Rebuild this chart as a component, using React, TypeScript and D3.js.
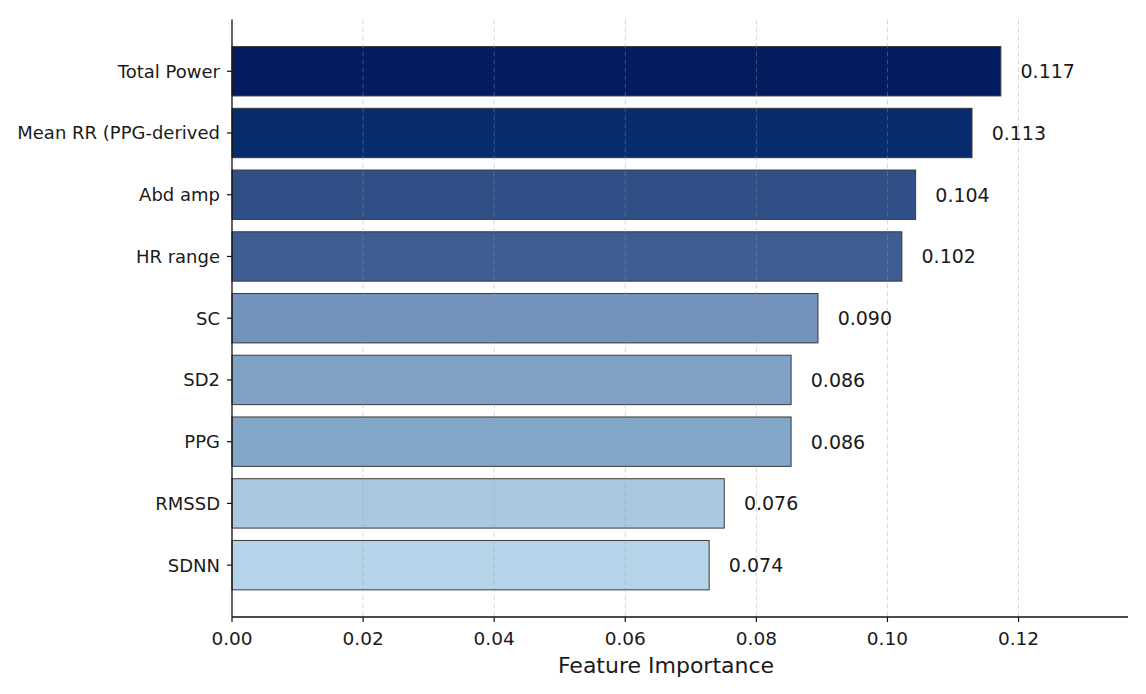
import React from "react";
import * as d3 from "d3";

const features = [
  "Total Power",
  "Mean RR (PPG-derived",
  "Abd amp",
  "HR range",
  "SC",
  "SD2",
  "PPG",
  "RMSSD",
  "SDNN",
];
const importance = [0.1173, 0.1129, 0.1043, 0.1022, 0.0894, 0.0853, 0.0853, 0.0751, 0.0728];
const valueLabels = ["0.117", "0.113", "0.104", "0.102", "0.090", "0.086", "0.086", "0.076", "0.074"];
const barColors = [
  "#031b5f",
  "#062c6d",
  "#2f4f86",
  "#3d5d93",
  "#7393bd",
  "#7fa2c6",
  "#83a7c9",
  "#a9c9e2",
  "#b4d5e9",
];
const xTicks = [0, 0.02, 0.04, 0.06, 0.08, 0.1, 0.12];

const W = 1146;
const H = 694;
const left = 232;
const right = 1128;
const top = 19.4;
const bottom = 617;

export default function App() {
  const x = d3.scaleLinear().domain([0, 0.1367]).range([left, right]);
  const y = d3
    .scaleBand<string>()
    .domain(features)
    .range([top, bottom])
    .paddingInner(0.2)
    .paddingOuter(0.44);
  const font = "'DejaVu Sans', sans-serif";
  const txt = "#1a1a1a";

  return (
    <div style={{ position: "absolute", left: 0, top: 0 }}>
      <svg width={W} height={H} style={{ display: "block", background: "#ffffff" }}>
        {features.map((f, i) => (
          <rect
            key={f}
            x={x(0)}
            y={y(f)}
            width={x(importance[i]) - x(0)}
            height={y.bandwidth()}
            fill={barColors[i]}
            stroke="#3a3a3a"
            strokeWidth={1}
          />
        ))}
        {xTicks.slice(1).map((t) => (
          <line
            key={"g" + t}
            x1={x(t)}
            x2={x(t)}
            y1={top}
            y2={bottom}
            stroke="#9a9a9a"
            strokeOpacity={0.4}
            strokeWidth={1}
            strokeDasharray="5,3"
          />
        ))}
        {/* spines */}
        <line x1={left} x2={left} y1={top} y2={bottom} stroke="#111" strokeWidth={1.3} />
        <line x1={left} x2={right} y1={bottom} y2={bottom} stroke="#111" strokeWidth={1.3} />
        {/* x ticks */}
        {xTicks.map((t) => (
          <g key={"t" + t}>
            <line x1={x(t)} x2={x(t)} y1={bottom} y2={bottom + 5} stroke="#111" strokeWidth={1.2} />
            <text
              x={x(t)}
              y={644.5}
              textAnchor="middle"
              fontFamily={font}
              fontSize={18.5}
              fill={txt}
            >
              {d3.format(".2f")(t)}
            </text>
          </g>
        ))}
        {/* y ticks */}
        {features.map((f) => {
          const cy = (y(f) as number) + y.bandwidth() / 2;
          return (
            <g key={"y" + f}>
              <line x1={left - 5} x2={left} y1={cy} y2={cy} stroke="#111" strokeWidth={1.2} />
              <text
                x={left - 12}
                y={cy}
                dy="0.36em"
                textAnchor="end"
                fontFamily={font}
                fontSize={18}
                fill={txt}
              >
                {f}
              </text>
            </g>
          );
        })}
        {/* value labels */}
        {features.map((f, i) => {
          const cy = (y(f) as number) + y.bandwidth() / 2;
          return (
            <text
              key={"v" + f}
              x={x(importance[i] + 0.003)}
              y={cy}
              dy="0.36em"
              fontFamily={font}
              fontSize={19}
              fill={txt}
            >
              {valueLabels[i]}
            </text>
          );
        })}
        <text
          x={(557 + 775) / 2}
          y={673.3}
          textAnchor="middle"
          fontFamily={font}
          fontSize={22}
          fill={txt}
        >
          Feature Importance
        </text>
      </svg>
    </div>
  );
}
